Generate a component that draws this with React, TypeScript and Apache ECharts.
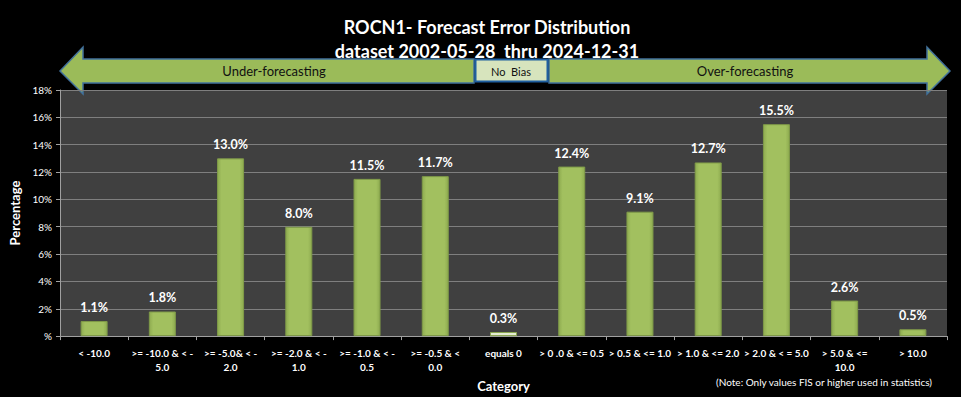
import React, { useEffect, useRef } from "react";
import * as echarts from "echarts";

const categories = [
  "< -10.0",
  ">= -10.0 & < -\n5.0",
  ">= -5.0& < -\n2.0",
  ">= -2.0 & < -\n1.0",
  ">= -1.0 & < -\n0.5",
  ">= -0.5 & <\n0.0",
  "equals 0",
  "> 0 .0 & <= 0.5",
  "> 0.5 & <= 1.0",
  "> 1.0 & <= 2.0",
  "> 2.0 & < = 5.0",
  "> 5.0 & <=\n10.0",
  "> 10.0",
];
const percentages = [1.1, 1.8, 13.0, 8.0, 11.5, 11.7, 0.3, 12.4, 9.1, 12.7, 15.5, 2.6, 0.5];
const yTicks = [0, 2, 4, 6, 8, 10, 12, 14, 16, 18];

const FONT = "Lato, 'Open Sans', sans-serif";

export default function App() {
  const ref = useRef<HTMLDivElement>(null);
  useEffect(() => {
    if (!ref.current) return;
    const chart = echarts.init(ref.current, undefined, { renderer: "svg" });
    const green = "#9bbb59";
    const arrowStyle = { fill: green, stroke: "#41719c", lineWidth: 1.5 };
    chart.setOption({
      animation: false,
      backgroundColor: "#000000",
      textStyle: { fontFamily: FONT },
      title: {
        text: "ROCN1- Forecast Error Distribution\ndataset 2002-05-28  thru 2024-12-31",
        left: 482,
        textAlign: "center",
        top: 10,
        textStyle: {
          color: "#ffffff",
          fontSize: 18,
          fontWeight: "bold",
          lineHeight: 24,
          fontFamily: FONT,
        },
      },
      grid: {
        left: 60,
        right: 14,
        top: 90,
        bottom: 57,
        show: true,
        backgroundColor: "#404040",
        borderWidth: 0,
      },
      xAxis: {
        type: "category",
        data: categories,
        name: "Category",
        nameLocation: "middle",
        nameGap: 40,
        nameTextStyle: { color: "#ffffff", fontSize: 13, fontWeight: "bold", fontFamily: FONT },
        axisLine: { lineStyle: { color: "#a0a0a0", width: 1 } },
        axisTick: { show: true, alignWithLabel: false, length: 4, lineStyle: { color: "#a0a0a0" } },
        axisLabel: {
          color: "#ffffff",
          fontSize: 10,
          fontWeight: "bold",
          interval: 0,
          margin: 10,
          lineHeight: 14,
          fontFamily: FONT,
        },
      },
      yAxis: {
        type: "value",
        min: 0,
        max: 18,
        interval: 2,
        name: "Percentage",
        nameLocation: "middle",
        nameGap: 38,
        nameRotate: 90,
        nameTextStyle: { color: "#ffffff", fontSize: 13, fontWeight: "bold", fontFamily: FONT },
        axisLine: { show: true, lineStyle: { color: "#a0a0a0", width: 1 } },
        axisTick: { show: true, length: 4, lineStyle: { color: "#a0a0a0" } },
        splitLine: { show: true, lineStyle: { color: "#7f7f7f", width: 1 } },
        axisLabel: {
          color: "#ffffff",
          fontSize: 10,
          margin: 8,
          fontFamily: FONT,
          formatter: (v: number) => (yTicks.includes(v) ? (v === 0 ? "%" : v + "%") : ""),
        },
      },
      series: [
        {
          type: "bar",
          data: percentages.map((v, i) =>
            i === 6
              ? { value: v, itemStyle: { color: "#e4ecd2", borderColor: "#8aa64e" } }
              : v
          ),
          barWidth: 27,
          itemStyle: {
            color: new echarts.graphic.LinearGradient(0, 0, 1, 0, [
              { offset: 0, color: "#8eab50" },
              { offset: 0.15, color: "#a2c05f" },
              { offset: 0.85, color: "#a2c05f" },
              { offset: 1, color: "#8eab50" },
            ]),
            borderColor: "#7f9a48",
            borderWidth: 1,
          },
          label: {
            show: true,
            position: "top",
            distance: 7,
            color: "#ffffff",
            fontSize: 12.5,
            fontWeight: "bold",
            fontFamily: FONT,
            formatter: (p: any) => p.value.toFixed(1) + "%",
          },
        },
      ],
      graphic: [
        {
          type: "polygon",
          shape: {
            points: [
              [60, 71],
              [83, 47],
              [83, 59],
              [474, 59],
              [474, 83],
              [83, 83],
              [83, 94],
            ],
          },
          style: arrowStyle,
        },
        {
          type: "polygon",
          shape: {
            points: [
              [950, 71],
              [927, 47],
              [927, 59],
              [549, 59],
              [549, 83],
              [927, 83],
              [927, 94],
            ],
          },
          style: arrowStyle,
        },
        {
          type: "rect",
          shape: { x: 475.5, y: 59.5, width: 72, height: 22 },
          style: { fill: "#d7e4bd", stroke: "#1f5fa0", lineWidth: 2 },
        },
        {
          type: "text",
          x: 274,
          y: 71,
          style: {
            text: "Under-forecasting",
            fill: "#111111",
            fontSize: 13,
            fontFamily: FONT,
            textAlign: "center",
            textVerticalAlign: "middle",
          },
        },
        {
          type: "text",
          x: 745,
          y: 71,
          style: {
            text: "Over-forecasting",
            fill: "#111111",
            fontSize: 13,
            fontFamily: FONT,
            textAlign: "center",
            textVerticalAlign: "middle",
          },
        },
        {
          type: "text",
          x: 511,
          y: 71,
          style: {
            text: "No  Bias",
            fill: "#111111",
            fontSize: 11,
            fontFamily: FONT,
            textAlign: "center",
            textVerticalAlign: "middle",
          },
        },
        {
          type: "text",
          x: 824,
          y: 382,
          style: {
            text: "(Note: Only values FIS or higher used in statistics)",
            fill: "#ffffff",
            fontSize: 10,
            fontFamily: FONT,
            textAlign: "center",
            textVerticalAlign: "middle",
          },
        },
      ],
    });
    return () => chart.dispose();
  }, []);
  return (
    <div
      ref={ref}
      style={{ position: "fixed", left: 0, top: 0, width: 961, height: 397, background: "#000" }}
    />
  );
}
